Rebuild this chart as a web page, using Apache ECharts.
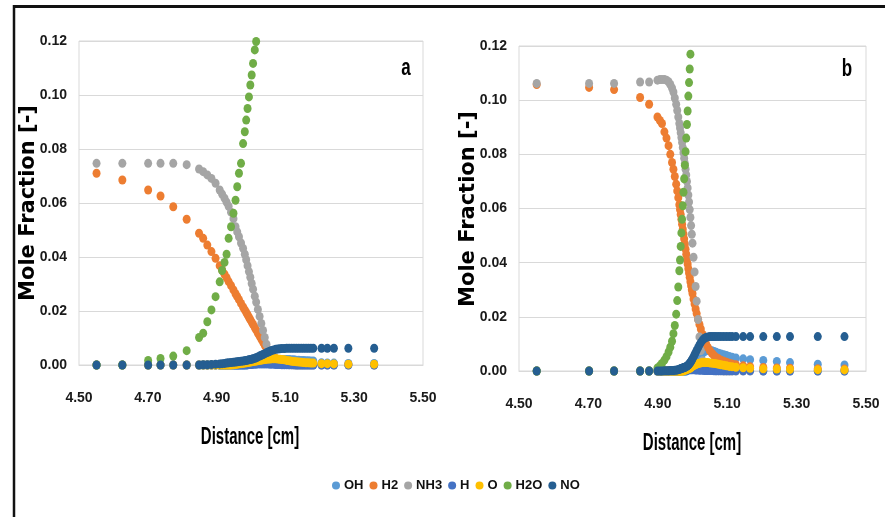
<!DOCTYPE html>
<html>
<head>
<meta charset="utf-8">
<script src="https://cdn.jsdelivr.net/npm/echarts@6/dist/echarts.min.js"></script>
<style>
  html, body { margin: 0; padding: 0; background: #fff; }
  #chart { width: 885px; height: 517px; }
</style>
</head>
<body>
<div id="chart"></div>
<script>
// species names and colours (legend order)
const species = ['OH', 'H2', 'NH3', 'H', 'O', 'H2O', 'NO']
const colors = ['#5B9BD5', '#ED7D31', '#A5A5A5', '#4472C4', '#FFC000', '#70AD47', '#255E91']
const xTicks = [4.5, 4.7, 4.9, 5.1, 5.3, 5.5]

// ---- panel a ----
const xa = [4.551,4.626,4.701,4.737,4.774,4.813,4.849,4.861,4.873,4.885,
  4.897,4.909,4.916,4.923,4.929,4.935,4.942,4.949,4.955,4.960,
  4.965,4.971,4.977,4.982,4.986,4.990,4.994,4.998,5.002,5.006,
  5.011,5.015,5.020,5.025,5.030,5.035,5.040,5.045,5.050,5.055,
  5.060,5.066,5.072,5.078,5.084,5.090,5.097,5.104,5.111,5.118,
  5.125,5.132,5.139,5.146,5.153,5.160,5.167,5.174,5.181,5.205,
  5.222,5.241,5.283,5.358]
const ohA = [0,0,0,0,0,0,0,0,0,0,
  0,0,0,0,0,0,0,0,0,0,
  0,0,0,0,0,.0001,.0002,.0003,.0004,.0005,
  .0006,.0007,.0008,.0009,.001,.0011,.0012,.0013,.0014,.0015,
  .0016,.0017,.0018,.0019,.002,.002,.002,.002,.002,.0019,
  .0019,.0018,.0018,.0017,.0017,.0016,.0016,.0015,.0015,.0008,
  .0007,.0007,.0006,.0006]
const h2A = [.071,.0685,.0648,.0626,.0586,.054,.0488,.0469,.0444,.042,
  .0395,.0368,.0352,.0336,.0323,.0309,.0294,.0278,.0264,.0253,
  .0242,.0228,.0215,.0204,.0195,.0186,.0177,.0168,.0159,.015,
  .0139,.013,.0118,.0107,.0096,.0085,.0073,.0062,.0051,.0042,
  .0035,.0029,.0024,.002,.0017,.0014,.0012,.001,.0009,.0008,
  .0007,.0006,.0006,.0005,.0005,.0004,.0004,.0004,.0003,.0003,
  .0002,.0002,.0002,.0001]
const nh3A = [.0747,.0747,.0747,.0747,.0747,.0742,.0726,.0716,.0704,.0691,
  .0673,.0648,.0633,.0618,.0603,.0588,.0566,.0542,.0512,.0493,
  .0475,.0452,.0432,.041,.039,.0368,.0346,.0325,.0302,.0281,
  .0255,.0233,.0206,.018,.0154,.0128,.0102,.0077,.0055,.0038,
  .0026,.0017,.0011,.0007,.0005,.0003,.0002,.0002,.0001,.0001,
  0,0,0,0,0,0,0,0,0,0,
  0,0,0,0]
const hA = [0,0,0,0,0,0,0,0,0,0,
  0,0,0,0,0,0,0,0,0,0,
  0,0,0,.0001,.0001,.0001,.0002,.0002,.0002,.0003,
  .0003,.0003,.0004,.0004,.0004,.0004,.0004,.0004,.0004,.0003,
  .0003,.0003,.0002,.0002,.0002,.0001,.0001,.0001,.0001,.0001,
  .0001,0,0,0,0,0,0,0,0,0,
  0,0,0,0]
const oA = [0,0,0,0,0,0,0,0,0,0,
  0,0,0,0,0,0,0,.0001,.0002,.0003,
  .0004,.0005,.0006,.0007,.0008,.0009,.001,.0011,.0012,.0013,
  .0014,.0015,.0016,.0017,.0018,.0019,.002,.0021,.0022,.0022,
  .0023,.0023,.0023,.0022,.0021,.002,.0019,.0017,.0016,.0014,
  .0013,.0012,.0011,.001,.0009,.0008,.0008,.0007,.0007,.0005,
  .0005,.0004,.0003,.0003]
const h2oA = [0,0,.0017,.0024,.0033,.0053,.0102,.0118,.016,.0204,
  .0253,.0308,.035,.038,.041,.0469,.0512,.0562,.061,.066,
  .071,.0747,.082,.0864,.0907,.095,.0993,.1037,.1074,.1117,
  .1167,.1198,null,null,null,null,null,null,null,null,
  null,null,null,null,null,null,null,null,null,null,
  null,null,null,null,null,null,null,null,null,null,
  null,null,null,null]
const noA = [0,0,0,0,0,0,0,.0001,.0001,.0002,
  .0003,.0004,.0005,.0006,.0007,.0008,.0009,.001,.0011,.0012,
  .0013,.0014,.0015,.0016,.0017,.0018,.0019,.002,.0021,.0023,
  .0025,.0027,.003,.0033,.0036,.0039,.0042,.0045,.0048,.0051,
  .0054,.0056,.0058,.0059,.006,.0061,.0061,.0062,.0062,.0062,
  .0062,.0062,.0062,.0062,.0062,.0062,.0062,.0062,.0062,.0062,
  .0062,.0062,.0062,.0062]

// ---- panel b ----
const xb = [4.551,4.702,4.774,4.849,4.875,4.899,4.906,4.912,4.919,4.925,
  4.931,4.936,4.941,4.945,4.949,4.953,4.956,4.959,4.962,4.964,
  4.966,4.968,4.970,4.972,4.974,4.976,4.978,4.980,4.982,4.984,
  4.986,4.988,4.990,4.992,4.994,4.996,4.998,5.000,5.003,5.006,
  5.009,5.012,5.016,5.020,5.024,5.029,5.034,5.039,5.044,5.050,
  5.056,5.062,5.068,5.075,5.082,5.090,5.098,5.106,5.114,5.125,
  5.146,5.166,5.204,5.243,5.281,5.361,5.438]
const ohB = [0,0,0,0,0,0,0,0,0,0,
  0,0,0,0,0,0,0,0,0,0,
  0,0,0,0,0,0,0,0,0,.0002,
  .0004,.0006,.0008,.001,.0013,.0016,.0019,.0022,.0027,.0032,
  .0037,.0042,.0048,.0054,.006,.0066,.0071,.0075,.0077,.0077,
  .0075,.0072,.0069,.0066,.0063,.006,.0057,.0054,.0051,.0048,
  .0045,.0042,.0039,.0035,.0031,.0025,.0022]
const h2B = [.1058,.1047,.1039,.101,.0985,.0938,.0925,.0914,.0883,.086,
  .0832,.08,.077,.0745,.0718,.069,.0665,.064,.0614,.0596,
  .0578,.056,.0542,.0524,.0506,.0488,.0469,.045,.0431,.0411,
  .0395,.0378,.0362,.0346,.033,.0315,.03,.0286,.0266,.0247,
  .0229,.0212,.0191,.0172,.0155,.0135,.0117,.0101,.0088,.0075,
  .0065,.0057,.005,.0045,.004,.0036,.0032,.0029,.0026,.0023,
  .0019,.0016,.0013,.0011,.001,.0008,.0007]
const nh3B = [.1062,.1062,.1062,.1067,.1067,.1074,.1076,.1076,.1076,.1074,
  .1068,.1058,.1045,.103,.1008,.0985,.0962,.0938,.0914,.0897,
  .088,.0862,.0844,.0825,.0806,.0786,.0766,.0745,.0724,.07,
  .0676,.065,.0624,.0596,.0567,.0537,.0505,.0472,.042,.0366,
  .0312,.0258,.019,.0126,.0075,.0038,.0018,.0009,.0005,.0003,
  .0002,.0002,.0001,.0001,.0001,0,0,0,0,0,
  0,0,0,0,0,0,0]
const hB = [0,0,0,0,0,0,0,0,0,0,
  0,0,0,0,0,0,0,0,0,0,
  .0001,.0001,.0001,.0002,.0002,.0002,.0003,.0003,.0003,.0004,
  .0004,.0004,.0005,.0005,.0005,.0005,.0005,.0005,.0005,.0005,
  .0004,.0004,.0004,.0003,.0003,.0003,.0002,.0002,.0002,.0002,
  .0002,.0001,.0001,.0001,.0001,.0001,.0001,.0001,.0001,.0001,
  .0001,.0001,0,0,0,0,0]
const oB = [0,0,0,0,0,0,0,0,0,0,
  0,0,0,0,0,0,0,0,0,0,
  0,0,0,0,.0001,.0002,.0003,.0004,.0005,.0006,
  .0007,.0008,.0009,.001,.0012,.0014,.0016,.0018,.002,.0022,
  .0024,.0026,.0028,.0029,.003,.0031,.0031,.0031,.0031,.003,
  .0029,.0028,.0027,.0025,.0023,.0021,.0019,.0017,.0016,.0014,
  .0012,.001,.0008,.0007,.0006,.0005,.0004]
const h2oB = [0,0,0,0,0,.0011,.0019,.0028,.004,.0053,
  .007,.0088,.011,.0138,.0168,.021,.026,.031,.037,.041,
  .046,.051,.056,.061,.066,.071,.076,.081,.086,.091,
  .096,.1015,.1065,.1115,.117,null,null,null,null,null,
  null,null,null,null,null,null,null,null,null,null,
  null,null,null,null,null,null,null,null,null,null,
  null,null,null,null,null,null,null]
const noB = [0,0,0,0,0,0,0,0,.0001,.0001,
  .0001,.0002,.0002,.0002,.0003,.0003,.0004,.0005,.0006,.0007,
  .0008,.0009,.001,.0011,.0012,.0013,.0014,.0015,.0016,.0018,
  .002,.0022,.0025,.0028,.0032,.0036,.004,.0045,.0052,.006,
  .0068,.0076,.0086,.0096,.0105,.0114,.012,.0124,.0126,.0127,
  .0127,.0127,.0127,.0127,.0127,.0127,.0127,.0127,.0127,.0127,
  .0127,.0127,.0127,.0127,.0127,.0127,.0127]

const panelA = [ohA, h2A, nh3A, hA, oA, h2oA, noA]
const panelB = [ohB, h2B, nh3B, hB, oB, h2oB, noB]

const sans = "'Liberation Sans', Arial, sans-serif"

const pts = (xs, ys) => xs.map((x, i) => [x, ys[i]]).filter(p => p[1] !== null)

const makeSeries = (xs, cols, idx) => cols.map((ys, k) => ({
  name: species[k],
  type: 'scatter',
  xAxisIndex: idx,
  yAxisIndex: idx,
  symbol: 'circle',
  symbolSize: [8, 9],
  itemStyle: { color: colors[k], opacity: 1 },
  clip: true,
  data: pts(xs, ys)
}))

const xAxisOf = (idx) => ({
  type: 'value', gridIndex: idx, min: 4.5, max: 5.5, interval: 0.2,
  axisLine: { show: true, lineStyle: { color: '#d9d9d9' } },
  axisTick: { show: false },
  splitLine: { show: false },
  axisLabel: { margin: 26, color: '#1a1a1a', fontSize: 14, fontWeight: 'bold', fontFamily: sans,
    formatter: v => v.toFixed(2) }
})
const yAxisOf = (idx) => ({
  type: 'value', gridIndex: idx, min: 0, max: 0.12, interval: 0.02,
  axisLine: { show: false },
  axisTick: { show: false },
  splitLine: { show: true, lineStyle: { color: '#d9d9d9' } },
  axisLabel: { margin: 12, color: '#1a1a1a', fontSize: 14, fontWeight: 'bold', fontFamily: sans,
    formatter: v => v.toFixed(2) }
})

// text helper for the titles drawn as graphic text
const label = (text, x, y, font, extra) => Object.assign({
  type: 'text', x: x, y: y,
  style: { text: text, fill: '#000', font: font, textAlign: 'center', textVerticalAlign: 'middle' }
}, extra || {})

let myChart = echarts.init(document.getElementById('chart'), null, { renderer: 'canvas' })
let option = {
  animation: false,
  backgroundColor: '#fff',
  grid: [
    { left: 79, top: 41, width: 344, height: 324, show: true, borderColor: '#d9d9d9', borderWidth: 1 },
    { left: 519, top: 46, width: 347, height: 325, show: true, borderColor: '#d9d9d9', borderWidth: 1 }
  ],
  xAxis: [xAxisOf(0), xAxisOf(1)],
  yAxis: [yAxisOf(0), yAxisOf(1)],
  legend: {
    data: species,
    left: 327, top: 474,
    icon: 'circle', itemWidth: 8, itemHeight: 8, itemGap: 6,
    textStyle: { color: '#111', fontSize: 13, fontWeight: 'bold', fontFamily: sans, padding: [0, 0, 0, -1] }
  },
  graphic: [
    { type: 'line', shape: { x1: 13, y1: 6.5, x2: 885, y2: 6.5 }, style: { stroke: '#111', lineWidth: 3 } },
    { type: 'line', shape: { x1: 14, y1: 5, x2: 14, y2: 517 }, style: { stroke: '#111', lineWidth: 2.5 } },
    label('Mole Fraction [-]', 29, 203, "bold 21px 'DejaVu Sans'", { rotation: Math.PI / 2 }),
    label('Mole Fraction [-]', 469, 209, "bold 21px 'DejaVu Sans'", { rotation: Math.PI / 2 }),
    label('Distance [cm]', 250, 437, 'bold 15px ' + sans, { scaleY: 1.6 }),
    label('Distance [cm]', 692, 443, 'bold 15px ' + sans, { scaleY: 1.6 }),
    label('a', 406, 68, 'bold 17px ' + sans, { scaleY: 1.4 }),
    label('b', 847, 69, 'bold 17px ' + sans, { scaleY: 1.4 })
  ],
  series: [...makeSeries(xa, panelA, 0), ...makeSeries(xb, panelB, 1)]
}
myChart.setOption(option)
</script>
</body>
</html>
